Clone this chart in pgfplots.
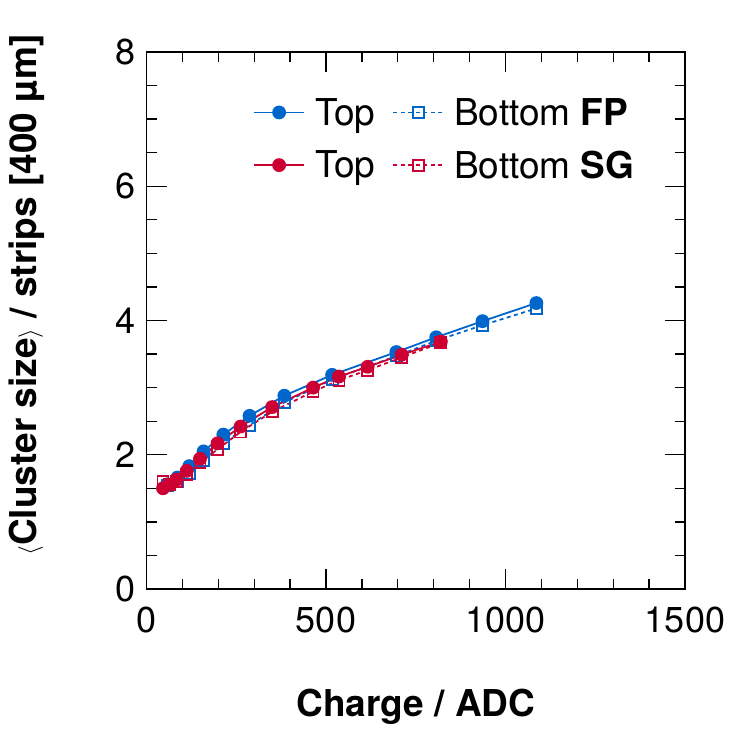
\documentclass[border=0pt]{standalone}
\usepackage{fontspec}
\setmainfont{TeX Gyre Heros}
\usepackage{pgfplots}
\pgfplotsset{compat=1.18}
\definecolor{cblue}{RGB}{0,102,204}
\definecolor{cred}{RGB}{204,0,51}
\begin{document}
\begin{tikzpicture}
\path[use as bounding box] (0,0) rectangle (735bp,735bp);
\begin{axis}[
  at={(146.5bp,146bp)}, anchor=south west,
  scale only axis, width=538.5bp, height=537bp,
  xmin=0, xmax=1500, ymin=0, ymax=8,
  xtick={0,500,1000,1500}, ytick={0,2,4,6,8},
  minor x tick num=4, minor y tick num=3,
  tick align=inside,
  major tick length=20bp, minor tick length=10bp,
  every tick/.style={black, line width=1.3bp},
  axis line style={line width=1.5bp},
  /pgf/number format/assume math mode=true,
  /pgf/number format/1000 sep={},
  tick label style={font=\fontsize{36bp}{43bp}\selectfont, inner sep=0pt},
  xticklabel style={anchor=north, yshift=-17.5bp},
  yticklabel style={anchor=east, xshift=-10.5bp},
  xlabel={\textbf{Charge / ADC}},
  ylabel={\textbf{$\langle$Cluster size$\rangle$ / strips [400 µm]}},
  label style={font=\fontsize{37bp}{44bp}\selectfont, inner sep=0pt},
  xlabel style={at={(axis description cs:0.5,0)}, anchor=base, yshift=-127bp},
  ylabel style={at={(axis description cs:-0.2035,0.5475)}, anchor=base},
  legend columns=2,
  legend cell align=left,
  legend style={draw=none, fill=none, inner sep=0pt,
    at={(axis description cs:0.1978,0.9143)}, anchor=north west,
    font=\fontsize{37bp}{44bp}\selectfont,
    nodes={inner sep=0pt},
    column sep=10bp, row sep=24bp,
    /tikz/every even column/.append style={column sep=17bp}},
  legend image code/.code={\draw[mark repeat=2,mark phase=2,#1] plot coordinates {(0bp,0bp) (25bp,0bp) (50bp,0bp)};},
]
\addplot[cblue, line width=1.8bp, mark=*, mark size=6bp, mark options={solid}] coordinates {
(58,1.56) (86,1.66) (119,1.83) (159,2.05) (214,2.30) (287,2.58) (384,2.88) (517,3.19) (696,3.53) (807,3.75) (936,3.99) (1086,4.26)};
\addlegendentry{Top}
\addplot[cblue, line width=1.8bp, dash pattern=on 4bp off 3.5bp, mark=square, mark size=5.5bp, mark options={solid, fill=white, line width=1.8bp}] coordinates {
(58,1.54) (86,1.60) (119,1.72) (159,1.92) (214,2.17) (287,2.44) (384,2.78) (517,3.12) (696,3.47) (807,3.70) (936,3.93) (1086,4.18)};
\addlegendentry{Bottom \textbf{FP}}
\addplot[cred, line width=1.8bp, mark=*, mark size=6bp, mark options={solid}] coordinates {
(46,1.50) (63,1.55) (84,1.63) (112,1.76) (149,1.94) (198,2.17) (262,2.42) (350,2.71) (464,3.00) (536,3.165) (616,3.31) (711,3.49) (820,3.685)};
\addlegendentry{Top}
\addplot[cred, line width=1.8bp, dash pattern=on 4bp off 3.5bp, mark=square, mark size=5.5bp, mark options={solid, fill=white, line width=1.8bp}] coordinates {
(46,1.60) (63,1.56) (84,1.60) (112,1.71) (149,1.88) (198,2.08) (262,2.34) (350,2.64) (464,2.94) (536,3.11) (616,3.26) (711,3.45) (820,3.67)};
\addlegendentry{Bottom \textbf{SG}}
\end{axis}
\end{tikzpicture}
\end{document}
